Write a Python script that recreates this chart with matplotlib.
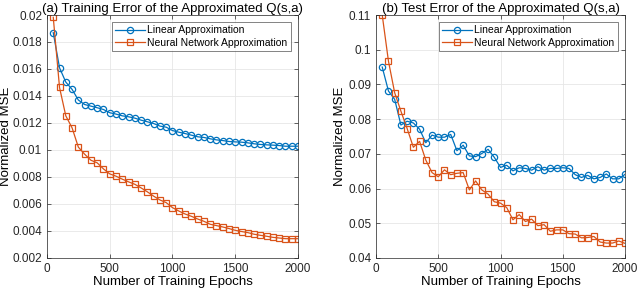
import matplotlib
matplotlib.use("Agg")
import matplotlib.pyplot as plt
import numpy as np

plt.rcParams['font.family'] = ['Liberation Sans', 'DejaVu Sans']

epochs = np.arange(50, 2001, 50)

train_linear = [0.01869, 0.01609, 0.01503, 0.01449, 0.01370, 0.01337, 0.01325, 0.01313, 0.01300, 0.01276,
                0.01266, 0.01253, 0.01246, 0.01236, 0.01221, 0.01209, 0.01196, 0.01177, 0.01169, 0.01144,
                0.01132, 0.01122, 0.01110, 0.01098, 0.01093, 0.01083, 0.01075, 0.01070, 0.01063, 0.01060,
                0.01058, 0.01053, 0.01046, 0.01041, 0.01038, 0.01036, 0.01033, 0.01028, 0.01028, 0.01028]
train_nn = [0.01983, 0.01463, 0.01253, 0.01164, 0.01021, 0.00969, 0.00924, 0.00905, 0.00860, 0.00823,
            0.00806, 0.00784, 0.00764, 0.00746, 0.00719, 0.00690, 0.00658, 0.00630, 0.00610, 0.00573,
            0.00548, 0.00526, 0.00509, 0.00489, 0.00472, 0.00450, 0.00440, 0.00430, 0.00418, 0.00405,
            0.00396, 0.00388, 0.00376, 0.00368, 0.00361, 0.00353, 0.00348, 0.00343, 0.00343, 0.00343]

test_linear = [0.0950, 0.0881, 0.0857, 0.0783, 0.0794, 0.0789, 0.0771, 0.0732, 0.0754, 0.0748,
               0.0748, 0.0756, 0.0709, 0.0725, 0.0694, 0.0692, 0.0701, 0.0713, 0.0690, 0.0661,
               0.0667, 0.0651, 0.0660, 0.0658, 0.0653, 0.0663, 0.0653, 0.0658, 0.0658, 0.0660,
               0.0658, 0.0640, 0.0632, 0.0638, 0.0628, 0.0632, 0.0642, 0.0628, 0.0628, 0.0641]
test_nn = [0.1100, 0.0967, 0.0876, 0.0823, 0.0773, 0.0719, 0.0736, 0.0682, 0.0646, 0.0634,
           0.0654, 0.0640, 0.0644, 0.0646, 0.0596, 0.0622, 0.0596, 0.0584, 0.0562, 0.0558,
           0.0545, 0.0510, 0.0525, 0.0505, 0.0512, 0.0493, 0.0496, 0.0477, 0.0481, 0.0481,
           0.0470, 0.0469, 0.0458, 0.0459, 0.0462, 0.0446, 0.0443, 0.0443, 0.0449, 0.0442]

BLUE = '#0072BD'
ORANGE = '#D95319'


def style_axes(ax, title, ylim, yticks, yfmt, ylab_x):
    ax.set_xlim(0, 2000)
    ax.set_xticks([0, 500, 1000, 1500, 2000])
    ax.set_ylim(*ylim)
    ax.set_yticks(yticks)
    ax.set_yticklabels([yfmt(v) for v in yticks])
    ax.grid(True, color='#e6e6e6', linewidth=0.6)
    ax.set_axisbelow(True)
    ax.tick_params(direction='in', length=3, width=0.5, labelsize=8.5, colors='#262626',
                   top=True, right=True)
    for s in ax.spines.values():
        s.set_linewidth(0.5)
        s.set_color('#262626')
    ax.set_xlabel('Number of Training Epochs', fontsize=9.5, labelpad=1)
    ax.set_ylabel('Normalized MSE', fontsize=9.5)
    ax.yaxis.set_label_coords(ylab_x, 0.5)
    ax.set_title(title, fontsize=9.5, pad=2)
    leg = ax.legend(loc='upper right', fontsize=7.5, frameon=True, fancybox=False,
                    handlelength=2.9, borderpad=0.3, labelspacing=0.2, handletextpad=0.2,
                    borderaxespad=0.7)
    leg.get_frame().set_edgecolor('#262626')
    leg.get_frame().set_linewidth(0.5)


def fmt_train(v):
    return f'{v:.3f}'.rstrip('0').rstrip('.')


def fmt_test(v):
    return f'{v:.2f}'.rstrip('0').rstrip('.')


fig = plt.figure(figsize=(6.4, 2.93), dpi=100)
ax1 = fig.add_axes([0.0734, 0.1195, 0.3922, 0.8293])
ax2 = fig.add_axes([0.5875, 0.1195, 0.3891, 0.8293])

ax1.plot(epochs, train_linear, '-o', color=BLUE, lw=0.9, ms=4.5, mfc='none', mew=0.9,
         label='Linear Approximation')
ax1.plot(epochs, train_nn, '-s', color=ORANGE, lw=0.9, ms=3.8, mfc='none', mew=0.9,
         label='Neural Network Approximation')
style_axes(ax1, '(a) Training Error of the Approximated Q(s,a)', (0.002, 0.02),
           np.arange(0.002, 0.0201, 0.002), fmt_train, -0.139)

ax2.plot(epochs, test_linear, '-o', color=BLUE, lw=0.9, ms=4.5, mfc='none', mew=0.9,
         label='Linear Approximation')
ax2.plot(epochs, test_nn, '-s', color=ORANGE, lw=0.9, ms=3.8, mfc='none', mew=0.9,
         label='Neural Network Approximation')
style_axes(ax2, '(b) Test Error of the Approximated Q(s,a)', (0.04, 0.11),
           np.arange(0.04, 0.1101, 0.01), fmt_test, -0.12)

fig.savefig('out.png', dpi=100)
